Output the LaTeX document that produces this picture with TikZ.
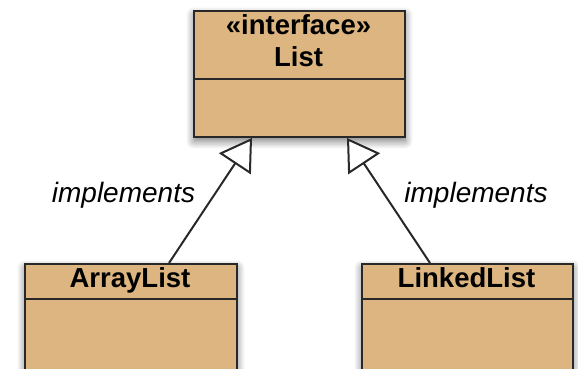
\documentclass[tikz,border=0pt]{standalone}
\usepackage{fontspec}
\setmainfont{Liberation Sans}
\usetikzlibrary{arrows.meta,shadows.blur}
\definecolor{tan}{RGB}{220,181,128}
\definecolor{edge}{RGB}{40,40,40}
\tikzset{
  classbox/.style={draw=edge, line width=2pt, fill=tan, inner sep=0pt, anchor=north west,
    blur shadow={shadow xshift=0pt, shadow yshift=-4pt, shadow blur radius=8pt, shadow blur steps=10, shadow opacity=55}},
  divider/.style={draw=edge, line width=2pt},
  classname/.style={font=\bfseries\fontsize{27.5}{30}\selectfont, anchor=base, inner sep=0pt},
  lbl/.style={font=\itshape\fontsize{28}{30}\selectfont, anchor=base, inner sep=0pt},
  realize/.style={draw=edge, line width=2pt, -{Triangle[length=31pt,width=38pt,fill=white,line width=2pt]}}
}
\begin{document}
\begin{tikzpicture}[x=1pt,y=1pt]
\useasboundingbox (0,0) rectangle (578,369);
% boxes
\node[classbox, minimum width=211pt, minimum height=126pt] (list) at (193,359) {};
\node[classbox, minimum width=212pt, minimum height=110pt] (arraylist) at (24,106) {};
\node[classbox, minimum width=211pt, minimum height=110pt] (linkedlist) at (361,106) {};
% dividers
\draw[divider] ([yshift=-69pt]list.north west) -- ([yshift=-69pt]list.north east);
\draw[divider] ([yshift=-36pt]arraylist.north west) -- ([yshift=-36pt]arraylist.north east);
\draw[divider] ([yshift=-36pt]linkedlist.north west) -- ([yshift=-36pt]linkedlist.north east);
% texts
\node[classname] (stereo) at (298.5,334) {«interface»};
\node[classname] (listname) at (298.5,302) {List};
\node[classname] (alname) at (130,81) {ArrayList};
\node[classname] (llname) at (466.5,81) {LinkedList};
\node[lbl] (lblleft) at (123.5,166) {implements};
\node[lbl] (lblright) at (476,166) {implements};
% connectors
\draw[realize] ([xshift=38pt]arraylist.north) -- ([xshift=-47.5pt]list.south);
\draw[realize] ([xshift=-37.5pt]linkedlist.north) -- ([xshift=47.5pt]list.south);
\end{tikzpicture}
\end{document}
